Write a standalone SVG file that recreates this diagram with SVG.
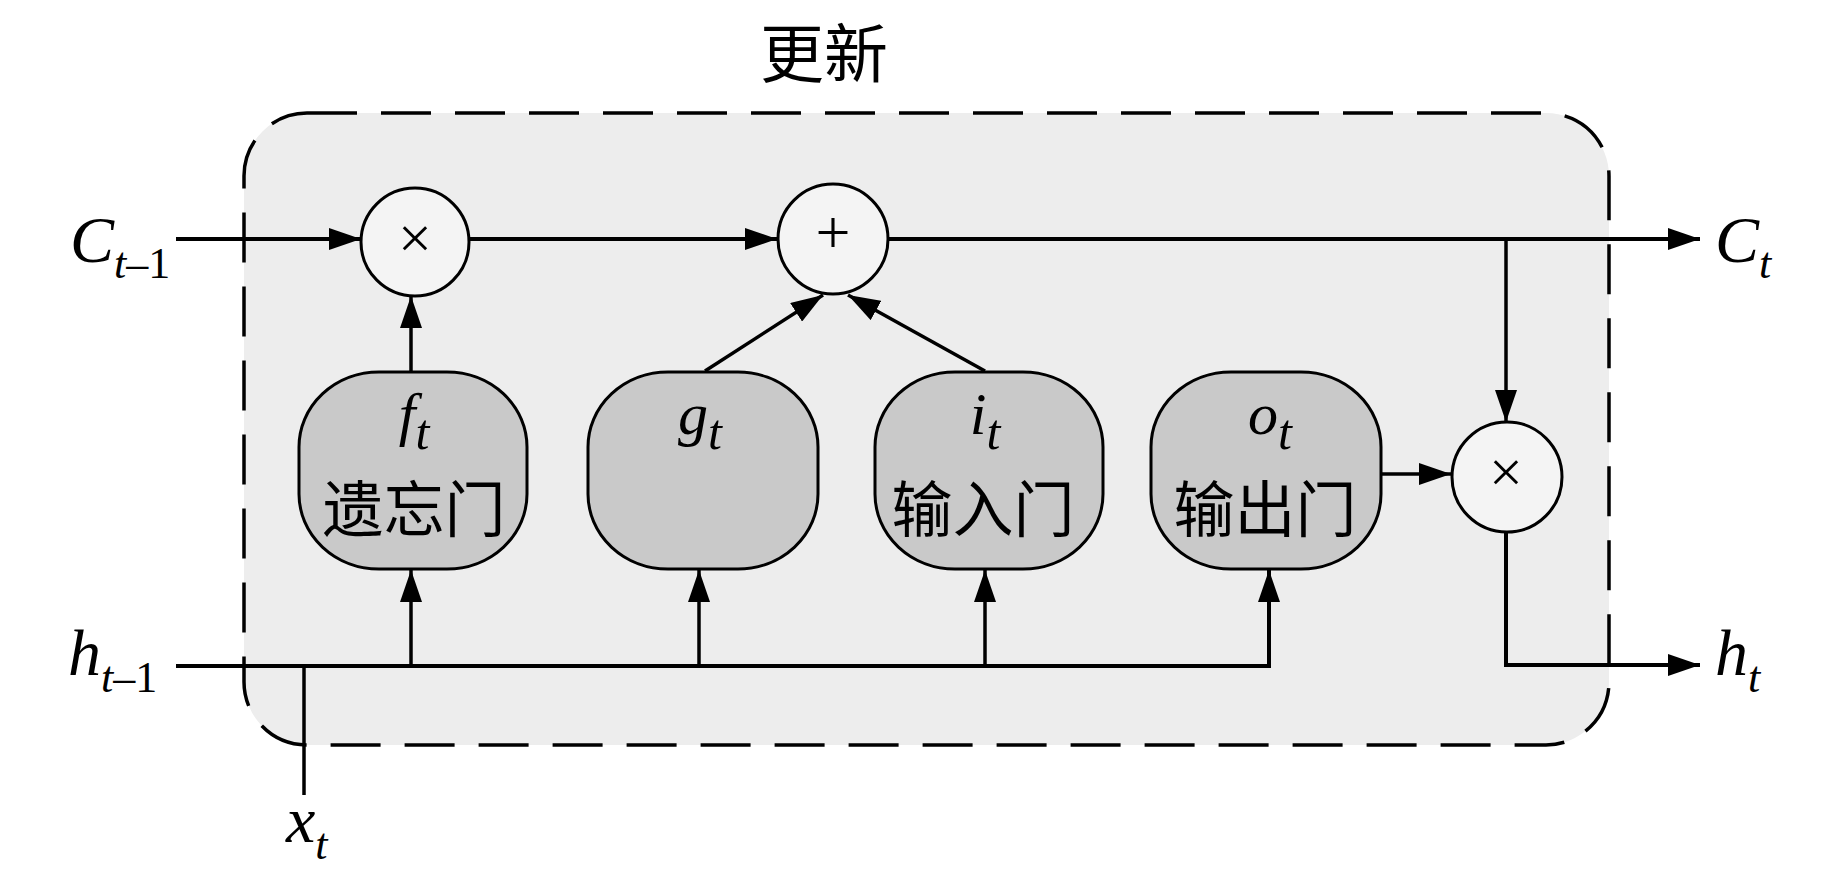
<svg xmlns="http://www.w3.org/2000/svg" width="1843" height="874" viewBox="0 0 1843 874">
<style>
.mi{font-family:"Liberation Serif","Times New Roman",serif;font-style:italic;font-size:66px;fill:#000}
.si{font-style:italic;font-size:44px}
.su{font-style:normal;font-size:44px}
.ni{font-family:"Liberation Serif","Times New Roman",serif;font-style:italic;font-size:60px;fill:#000;text-anchor:middle}
.ns{font-size:50px}
.cn{font-family:"Noto Sans CJK SC","Noto Sans CJK JP",sans-serif;font-size:61px;fill:#000;text-anchor:middle}
.op{font-family:"Liberation Serif","Times New Roman",serif;fill:#000;text-anchor:middle}
.gate{fill:#c9c9c9;stroke:#000;stroke-width:3}
.circ{fill:#f4f4f4;stroke:#000;stroke-width:3}
.ln{fill:none;stroke:#000;stroke-width:3.5}
.arr{marker-end:url(#ah)}
</style>
<defs>
<marker id="ah" markerUnits="userSpaceOnUse" markerWidth="32" markerHeight="22" refX="32" refY="11" orient="auto">
<path d="M0,0 L32,11 L0,22 Z" fill="#000"/>
</marker>
</defs>
<rect width="1843" height="874" fill="#fff"/>
<g id="title"><text class="cn" x="824" y="77" style="font-size:64px">更新</text></g>
<g id="cell"><rect x="244" y="113" width="1365" height="632" rx="63" ry="63" fill="#ededed" stroke="#000" stroke-width="3.5" stroke-dasharray="50 24"/></g>
<g id="connectors">
<path class="ln arr" d="M176,239 H361" style="stroke-width:4"/>
<path class="ln arr" d="M470,239 H777" style="stroke-width:4"/>
<path class="ln arr" d="M889,239 H1700" style="stroke-width:4"/>
<path class="ln arr" d="M1506,239 V422"/>
<path class="ln arr" d="M411,372 V296"/>
<path class="ln arr" d="M705,371 L823,295"/>
<path class="ln arr" d="M985,371 L848,295"/>
<path class="ln arr" d="M1381,474 H1451"/>
<path class="ln arr" d="M1506,532 V665 H1700" style="stroke-width:4"/>
<path class="ln arr" d="M176,666 H1269 V570" style="stroke-width:4"/>
<path class="ln arr" d="M411,666 V570"/>
<path class="ln arr" d="M699,666 V570"/>
<path class="ln arr" d="M985,666 V570"/>
<path class="ln" d="M304,666 V795"/>
</g>
<g id="mul1"><circle class="circ" cx="415" cy="242" r="54"/><text class="op" x="415" y="258" font-size="60">×</text></g>
<g id="add"><circle class="circ" cx="833" cy="239" r="55"/><text class="op" x="833" y="253" font-size="62">+</text></g>
<g id="mul2"><circle class="circ" cx="1507" cy="477" r="55"/><text class="op" x="1506" y="492" font-size="60">×</text></g>
<g id="forget"><rect class="gate" x="299" y="372" width="228" height="197" rx="80" ry="75"/>
<text class="ni" x="414" y="434">f<tspan class="ns" dy="15">t</tspan></text>
<text class="cn" x="414" y="532">遗忘门</text></g>
<g id="cand"><rect class="gate" x="588" y="372" width="230" height="197" rx="80" ry="75"/>
<text class="ni" x="700" y="434">g<tspan class="ns" dy="15">t</tspan></text></g>
<g id="input"><rect class="gate" x="875" y="372" width="228" height="197" rx="80" ry="75"/>
<text class="ni" x="985" y="434">i<tspan class="ns" dy="15">t</tspan></text>
<text class="cn" x="983" y="532">输入门</text></g>
<g id="output"><rect class="gate" x="1151" y="372" width="230" height="197" rx="80" ry="75"/>
<text class="ni" x="1270" y="434">o<tspan class="ns" dy="15">t</tspan></text>
<text class="cn" x="1265" y="532">输出门</text></g>
<g id="labels">
<text class="mi" x="70" y="262">C<tspan class="si" dy="16">t</tspan><tspan class="su">–1</tspan></text>
<text class="mi" x="1715" y="262">C<tspan class="si" dy="16">t</tspan></text>
<text class="mi" x="68" y="675">h<tspan class="si" dy="17">t</tspan><tspan class="su">–1</tspan></text>
<text class="mi" x="1715" y="675">h<tspan class="si" dy="17">t</tspan></text>
<text class="mi" x="286" y="842">x<tspan class="si" dy="17">t</tspan></text>
</g>
</svg>
